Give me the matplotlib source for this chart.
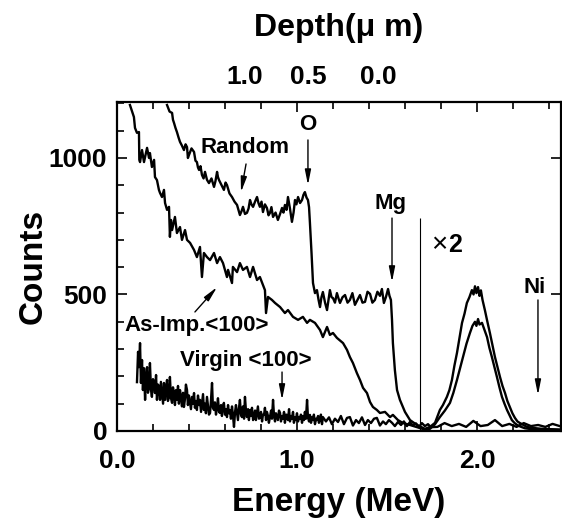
import matplotlib

matplotlib.use("Agg")
import matplotlib.pyplot as plt
from matplotlib.ticker import MultipleLocator

plt.rcParams["font.family"] = ["Liberation Sans", "DejaVu Sans"]
plt.rcParams["font.weight"] = "bold"

# Random spectrum (energy in MeV, counts)
random_e = [
    0.278, 0.292, 0.306, 0.311, 0.317, 0.325, 0.333, 0.342, 0.350, 0.361,
    0.372, 0.381, 0.389, 0.394, 0.400, 0.414, 0.428, 0.436, 0.444, 0.450,
    0.456, 0.464, 0.472, 0.481, 0.489, 0.500, 0.511, 0.525, 0.539, 0.547,
    0.556, 0.561, 0.567, 0.581, 0.594, 0.603, 0.611, 0.625, 0.639, 0.653,
    0.667, 0.675, 0.683, 0.692, 0.700, 0.711, 0.722, 0.731, 0.739, 0.747,
    0.756, 0.767, 0.778, 0.786, 0.794, 0.803, 0.811, 0.822, 0.833, 0.842,
    0.850, 0.858, 0.867, 0.881, 0.894, 0.906, 0.917, 0.925, 0.933, 0.942,
    0.950, 0.961, 0.972, 0.981, 0.989, 0.997, 1.006, 1.017, 1.028, 1.036,
    1.044, 1.053, 1.061, 1.067, 1.072, 1.081, 1.089, 1.100, 1.111, 1.120,
    1.128, 1.136, 1.144, 1.156, 1.167, 1.175, 1.183, 1.192, 1.200, 1.211,
    1.222, 1.231, 1.239, 1.253, 1.267, 1.281, 1.294, 1.308, 1.322, 1.336,
    1.350, 1.364, 1.378, 1.392, 1.406, 1.419, 1.433, 1.447, 1.461, 1.472,
    1.483, 1.494, 1.506, 1.514, 1.522, 1.528, 1.533, 1.544, 1.556, 1.572,
    1.600, 1.628, 1.667, 1.711, 1.739, 1.767, 1.794, 1.811, 1.833, 1.847,
    1.861, 1.875, 1.889, 1.903, 1.917, 1.931, 1.944, 1.958, 1.972, 1.981,
    1.989, 1.997, 2.006, 2.014, 2.022, 2.031, 2.044, 2.058, 2.072, 2.086,
    2.100, 2.114, 2.128, 2.142, 2.156, 2.169, 2.183, 2.197, 2.211, 2.225,
    2.239, 2.258, 2.278, 2.300, 2.330, 2.360, 2.400, 2.440, 2.467,
]
random_c = [
    1194, 1170, 1165, 1140, 1128, 1110, 1095, 1075, 1059, 1045,
    1029, 1050, 1040, 1000, 1011, 1035, 1022, 990, 985, 965,
    956, 970, 938, 925, 949, 920, 908, 925, 894, 915,
    949, 930, 919, 900, 883, 910, 901, 870, 857, 840,
    828, 810, 791, 805, 821, 795, 799, 815, 846, 830,
    821, 840, 857, 835, 821, 840, 802, 830, 817, 790,
    799, 820, 784, 800, 773, 795, 817, 800, 828, 810,
    857, 815, 766, 800, 846, 830, 857, 835, 846, 865,
    875, 855, 846, 820, 762, 650, 542, 505, 516, 480,
    454, 490, 509, 470, 443, 480, 516, 490, 487, 470,
    505, 485, 469, 490, 498, 470, 480, 505, 462, 480,
    498, 470, 473, 510, 502, 470, 480, 510, 495, 520,
    469, 490, 520, 495, 480, 407, 322, 223, 150, 114,
    70, 40, 22, 8, 15, 30, 77, 95, 125, 150,
    187, 240, 286, 340, 396, 430, 469, 490, 516, 500,
    530, 505, 527, 495, 515, 480, 443, 400, 359, 315,
    271, 235, 198, 165, 139, 110, 88, 65, 48, 35,
    29, 22, 15, 12, 10, 8, 7, 6, 5,
]

# As-implanted <100> aligned spectrum
asimp_e = [
    0.072, 0.094, 0.100, 0.111, 0.122, 0.124, 0.128, 0.139, 0.150, 0.167,
    0.178, 0.183, 0.194, 0.206, 0.211, 0.222, 0.233, 0.239, 0.250, 0.261,
    0.267, 0.278, 0.289, 0.294, 0.300, 0.306, 0.322, 0.333, 0.350, 0.361,
    0.378, 0.389, 0.406, 0.428, 0.444, 0.461, 0.472, 0.483, 0.500, 0.517,
    0.539, 0.556, 0.572, 0.589, 0.611, 0.617, 0.639, 0.644, 0.667, 0.683,
    0.700, 0.722, 0.739, 0.756, 0.778, 0.794, 0.811, 0.822, 0.828, 0.839,
    0.861, 0.878, 0.906, 0.933, 0.950, 0.978, 1.006, 1.033, 1.056, 1.072,
    1.100, 1.128, 1.144, 1.167, 1.183, 1.200, 1.222, 1.256, 1.278, 1.294,
    1.311, 1.333, 1.350, 1.367, 1.389, 1.406, 1.422, 1.444, 1.461, 1.489,
    1.517, 1.533, 1.561, 1.589, 1.628, 1.683, 1.711, 1.739, 1.767, 1.794,
    1.822, 1.850, 1.869, 1.889, 1.906, 1.922, 1.942, 1.961, 1.975, 1.989,
    1.997, 2.006, 2.014, 2.028, 2.042, 2.056, 2.069, 2.083, 2.097, 2.111,
    2.125, 2.139, 2.153, 2.167, 2.181, 2.194, 2.211, 2.228, 2.250, 2.267,
    2.300, 2.350, 2.400, 2.467,
]
asimp_c = [
    1194, 1150, 1110, 1092, 1095, 993, 985, 1029, 985, 1037,
    1000, 1018, 967, 993, 930, 919, 883, 872, 857, 883,
    835, 810, 821, 711, 773, 736, 784, 725, 747, 700,
    736, 700, 689, 663, 637, 674, 564, 652, 637, 626,
    652, 615, 637, 615, 564, 590, 542, 601, 582, 615,
    590, 601, 564, 601, 553, 564, 535, 516, 432, 491,
    480, 469, 454, 432, 443, 418, 407, 418, 396, 407,
    396, 370, 344, 381, 352, 359, 341, 322, 297, 271,
    249, 212, 187, 158, 139, 106, 88, 77, 66, 70,
    51, 59, 40, 29, 22, 11, 5, 8, 25, 51,
    75, 103, 140, 187, 230, 271, 320, 359, 385, 400,
    385, 410, 390, 396, 370, 344, 305, 271, 235, 198,
    160, 125, 100, 77, 58, 40, 28, 20, 14, 10,
    7, 6, 5, 4,
]

# Virgin <100> aligned spectrum
virgin_e = [
    0.111, 0.117, 0.122, 0.128, 0.133, 0.139, 0.144, 0.150, 0.156, 0.161,
    0.167, 0.172, 0.178, 0.183, 0.189, 0.194, 0.200, 0.206, 0.211, 0.217,
    0.222, 0.228, 0.233, 0.239, 0.244, 0.250, 0.256, 0.261, 0.267, 0.272,
    0.278, 0.283, 0.289, 0.294, 0.300, 0.306, 0.311, 0.317, 0.322, 0.328,
    0.333, 0.339, 0.344, 0.350, 0.356, 0.361, 0.367, 0.372, 0.378, 0.383,
    0.389, 0.394, 0.400, 0.406, 0.411, 0.417, 0.422, 0.428, 0.433, 0.439,
    0.444, 0.450, 0.456, 0.461, 0.467, 0.472, 0.478, 0.483, 0.489, 0.494,
    0.500, 0.506, 0.511, 0.517, 0.522, 0.528, 0.533, 0.539, 0.544, 0.550,
    0.556, 0.561, 0.567, 0.572, 0.578, 0.583, 0.589, 0.594, 0.600, 0.606,
    0.611, 0.617, 0.622, 0.628, 0.633, 0.639, 0.644, 0.650, 0.656, 0.661,
    0.667, 0.672, 0.678, 0.683, 0.689, 0.694, 0.700, 0.706, 0.711, 0.717,
    0.722, 0.728, 0.733, 0.739, 0.744, 0.750, 0.756, 0.761, 0.767, 0.772,
    0.778, 0.783, 0.789, 0.794, 0.800, 0.806, 0.811, 0.817, 0.822, 0.828,
    0.833, 0.839, 0.844, 0.850, 0.856, 0.861, 0.867, 0.872, 0.878, 0.883,
    0.889, 0.894, 0.900, 0.906, 0.911, 0.917, 0.922, 0.928, 0.933, 0.939,
    0.944, 0.950, 0.956, 0.961, 0.967, 0.972, 0.978, 0.983, 0.989, 0.994,
    1.000, 1.006, 1.011, 1.017, 1.022, 1.028, 1.033, 1.039, 1.044, 1.050,
    1.056, 1.061, 1.067, 1.072, 1.078, 1.083, 1.089, 1.094, 1.100, 1.106,
    1.111, 1.117, 1.122, 1.128, 1.133, 1.139, 1.144, 1.161, 1.178, 1.194,
    1.211, 1.228, 1.244, 1.261, 1.278, 1.294, 1.311, 1.328, 1.344, 1.361,
    1.378, 1.394, 1.411, 1.428, 1.444, 1.461, 1.478, 1.494, 1.511, 1.528,
    1.544, 1.561, 1.578, 1.594, 1.611, 1.628, 1.644, 1.661, 1.678, 1.694,
    1.711, 1.728, 1.744, 1.780, 1.820, 1.860, 1.900, 1.940, 1.980, 2.020,
    2.060, 2.100, 2.140, 2.180, 2.220, 2.260, 2.300, 2.340, 2.380, 2.420,
    2.460,
]
virgin_c = [
    179, 290, 234, 322, 176, 260, 150, 230, 114, 200,
    234, 140, 161, 249, 150, 125, 190, 176, 139, 205,
    114, 170, 161, 114, 180, 139, 100, 176, 114, 150,
    187, 110, 125, 198, 120, 103, 160, 139, 95, 150,
    114, 165, 100, 150, 120, 90, 140, 88, 120, 170,
    150, 95, 130, 103, 80, 125, 100, 139, 85, 110,
    77, 130, 95, 114, 70, 100, 135, 77, 100, 65,
    125, 90, 60, 66, 110, 176, 85, 77, 105, 60,
    88, 120, 70, 66, 95, 55, 90, 103, 60, 80,
    51, 95, 65, 77, 45, 90, 60, 15, 70, 95,
    66, 40, 85, 114, 60, 51, 90, 45, 125, 70,
    51, 80, 40, 77, 55, 85, 40, 48, 75, 40,
    66, 90, 45, 51, 70, 35, 60, 59, 85, 40,
    70, 55, 30, 51, 75, 45, 114, 60, 35, 65,
    51, 40, 75, 66, 35, 55, 45, 70, 30, 60,
    59, 40, 80, 35, 55, 45, 70, 30, 50, 40,
    65, 35, 51, 45, 60, 30, 55, 40, 70, 45,
    114, 50, 35, 59, 30, 50, 40, 60, 25, 45,
    40, 55, 30, 45, 60, 25, 51, 35, 50, 25,
    45, 33, 55, 25, 48, 51, 20, 40, 29, 50,
    22, 40, 29, 45, 48, 20, 35, 25, 40, 30,
    18, 33, 22, 35, 18, 33, 20, 28, 15, 29,
    18, 25, 14, 15, 29, 18, 26, 15, 37, 18,
    22, 40, 18, 26, 15, 29, 18, 22, 15, 26,
    18,
]

x_ticks = [0.0, 1.0, 2.0]
y_ticks = [0, 500, 1000]
depth_pos = [0.711, 1.061, 1.450]
depth_labels = ["1.0", "0.5", "0.0"]

fig = plt.figure(figsize=(5.62, 5.18), dpi=100)
ax = fig.add_axes([117 / 562, 87 / 518, 444 / 562, 329 / 518])

for e, c in [(random_e, random_c), (asimp_e, asimp_c), (virgin_e, virgin_c)]:
    ax.plot(e, c, color="black", linewidth=1.7)

ax.set_xlim(0, 2.467)
ax.set_ylim(0, 1205)
ax.set_xticks(x_ticks)
ax.set_xticklabels([f"{v:.1f}" for v in x_ticks])
ax.set_yticks(y_ticks)
ax.xaxis.set_minor_locator(MultipleLocator(0.2))
ax.yaxis.set_minor_locator(MultipleLocator(100))
ax.tick_params(which="both", direction="in", top=True, right=True, labelsize=19, width=1.2)
ax.tick_params(which="major", length=7, pad=7)
ax.tick_params(which="minor", length=5)
ax.tick_params(axis="x", which="major", pad=13)
ax.tick_params(axis="y", which="minor", right=False)
for s in ax.spines.values():
    s.set_linewidth(1.6)

ax.set_xlabel("Energy (MeV)", fontsize=24, fontweight="bold", labelpad=10)
ax.set_ylabel("Counts", fontsize=24, fontweight="bold", labelpad=0)

sec = ax.secondary_xaxis("top")
sec.set_ticks(depth_pos)
sec.set_xticklabels(depth_labels)
sec.tick_params(length=0, labelsize=19, pad=9)
sec.spines["top"].set_visible(False)
sec.set_xlabel("Depth(μ m)", fontsize=23, fontweight="bold", labelpad=21)

fs = 16
ax.text(0.711, 1037, "Random", fontsize=fs, ha="center", va="center")
ax.text(1.061, 1121, "O", fontsize=fs, ha="center", va="center")
ax.text(1.517, 835, "Mg", fontsize=fs, ha="center", va="center")
ax.text(2.32, 527, "Ni", fontsize=fs, ha="center", va="center")
ax.text(0.444, 385, "As-Imp.<100>", fontsize=fs, ha="center", va="center")
ax.text(0.717, 260, "Virgin <100>", fontsize=fs, ha="center", va="center")
ax.text(1.79, 681, "×", fontsize=20, fontweight="normal", ha="center", va="center")
ax.text(1.88, 681, "2", fontsize=18, ha="center", va="center")

ax.vlines(1.683, 0, 780, color="black", linewidth=0.8)

arrows = [
    ((0.717, 978), (0.689, 875)),
    ((1.061, 1066), (1.061, 901)),
    ((1.528, 780), (1.528, 546)),
    ((2.339, 480), (2.339, 132)),
    ((0.433, 436), (0.556, 527)),
    ((0.917, 216), (0.917, 114)),
]
for tail, tip in arrows:
    ax.annotate(
        "",
        xy=tip,
        xytext=tail,
        arrowprops=dict(arrowstyle="-|>,head_width=0.18,head_length=0.9", color="black", lw=1.0, shrinkA=0, shrinkB=0),
    )

fig.savefig("out.png", dpi=100)
